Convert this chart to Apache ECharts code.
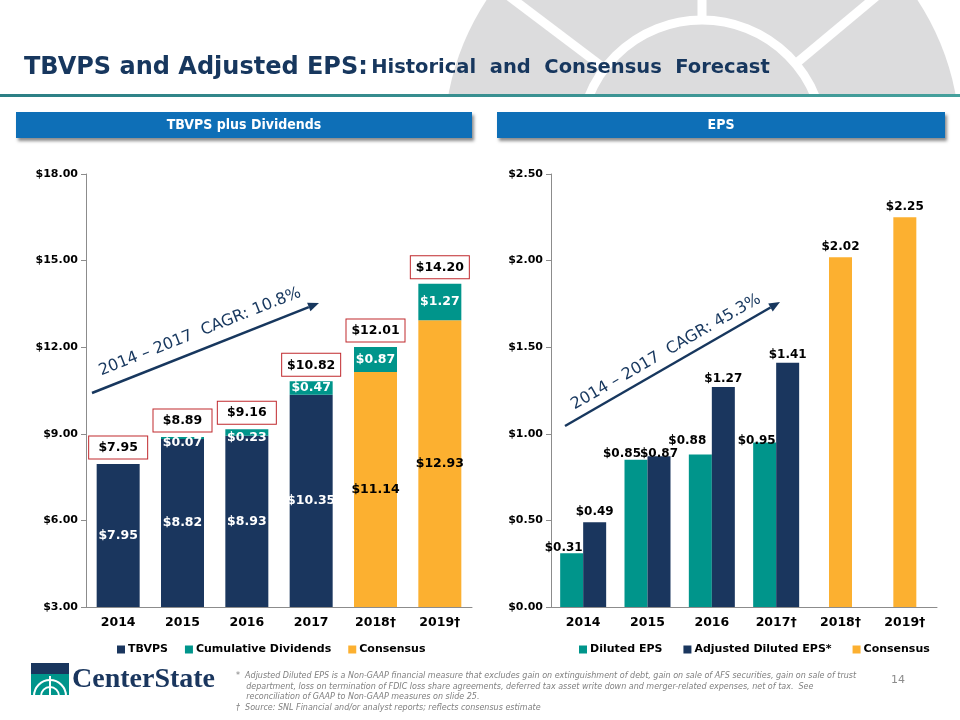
<!DOCTYPE html>
<html><head><meta charset="utf-8">
<script src="https://cdn.jsdelivr.net/npm/echarts@6/dist/echarts.min.js"></script>
<style>html,body{margin:0;padding:0;background:#fff}#c{width:960px;height:720px}</style>
</head><body><div id="c"></div>
<script>
// ---------- DATA ----------
const leftCategories = ['2014', '2015', '2016', '2017', '2018†', '2019†'];
const tbvps = [7.95, 8.82, 8.93, 10.35, 0, 0];
const tbvpsConsensus = [0, 0, 0, 0, 11.14, 12.93];
const cumulativeDividends = [0, 0.07, 0.23, 0.47, 0.87, 1.27];
const tbvpsTotals = [7.95, 8.89, 9.16, 10.82, 12.01, 14.20];
const leftAxis = { min: 3, max: 18, interval: 3 };

const rightCategories = ['2014', '2015', '2016', '2017†', '2018†', '2019†'];
const dilutedEps = [0.31, 0.85, 0.88, 0.95, '-', '-'];
const adjustedDilutedEps = [0.49, 0.87, 1.27, 1.41, '-', '-'];
const epsConsensus = ['-', '-', '-', '-', 2.02, 2.25];
const rightAxis = { min: 0, max: 2.5, interval: 0.5 };

const leftCagrText = '2014 – 2017  CAGR: 10.8%';
const rightCagrText = '2014 – 2017  CAGR: 45.3%';

// ---------- STYLE ----------
const NAVY = '#1a365e';
const TEAL = '#00958b';
const ORANGE = '#fcb030';
const BOXRED = '#c0282d';
const FONT = '"DejaVu Sans", Verdana, sans-serif';
const COND = '"DejaVu Sans Condensed", "DejaVu Sans", sans-serif';
// label nudges (pixels) to mimic the original's de-overlapped label placement
const dilutedLabelNudge = [[-8, 4.5], [-14, 4.5], [-13, -4], [-8, 8], [0, 0], [0, 0]];
const adjustedLabelNudge = [[0, 0], [0, 7.5], [0, 2], [0, 2], [0, 0], [0, 0]];

const money = v => '$' + Number(v).toFixed(2);
const hideZero = p => (p.value === 0 || p.value === '-' || p.value == null) ? '' : money(p.value);

function arrow(x1, y1, x2, y2, color) {
  const a = Math.atan2(y2 - y1, x2 - x1);
  const L = 11, W = 4.5;
  const bx = x2 - L * Math.cos(a), by = y2 - L * Math.sin(a);
  const px = -Math.sin(a) * W, py = Math.cos(a) * W;
  return [
    { type: 'line', shape: { x1, y1, x2: bx, y2: by }, style: { stroke: color, lineWidth: 2.5 }, z: 10 },
    { type: 'polygon', shape: { points: [[x2, y2], [bx + px, by + py], [bx - px, by - py]] }, style: { fill: color }, z: 10 }
  ];
}

// watermark geometry
const wm = { cx: 702, cy: 142, r: 258, ring: 122 };
function ray(tx, ty) {
  const dx = tx - wm.cx, dy = ty - wm.cy, l = Math.hypot(dx, dy);
  return { type: 'line', shape: { x1: wm.cx + dx / l * wm.ring, y1: wm.cy + dy / l * wm.ring, x2: wm.cx + dx / l * 320, y2: wm.cy + dy / l * 320 }, style: { stroke: '#fff', lineWidth: 9 }, z: -9 };
}

const footLines = [
  '*  Adjusted Diluted EPS is a Non-GAAP financial measure that excludes gain on extinguishment of debt, gain on sale of AFS securities, gain on sale of trust',
  '    department, loss on termination of FDIC loss share agreements, deferred tax asset write down and merger-related expenses, net of tax.  See',
  '    reconciliation of GAAP to Non-GAAP measures on slide 25.',
  '†  Source: SNL Financial and/or analyst reports; reflects consensus estimate'
];

const graphic = [
  // watermark
  { type: 'circle', shape: { cx: wm.cx, cy: wm.cy, r: wm.r }, style: { fill: '#dcdcdd' }, z: -10 },
  { type: 'circle', shape: { cx: wm.cx, cy: wm.cy, r: wm.ring }, style: { fill: 'none', stroke: '#fff', lineWidth: 9 }, z: -9 },
  ray(wm.cx, 0), ray(514, 0), ray(872, 0),
  { type: 'rect', shape: { x: 0, y: 97, width: 960, height: 623 }, style: { fill: '#fff' }, z: -8 },
  // teal rule
  { type: 'rect', shape: { x: 0, y: 94, width: 960, height: 3 }, style: { fill: new echarts.graphic.LinearGradient(0, 0, 1, 0, [{ offset: 0, color: '#2c7f85' }, { offset: 1, color: '#45a09c' }]) }, z: -7 },
  // title
  { type: 'text', x: 24, y: 68, style: { text: '{a|TBVPS and Adjusted EPS:} {b|Historical  and  Consensus  Forecast}', verticalAlign: 'middle', rich: {
      a: { fontFamily: FONT, fontWeight: 'bold', fontSize: 24, fill: '#17375e' },
      b: { fontFamily: FONT, fontWeight: 'bold', fontSize: 19.5, fill: '#17375e' } } }, z: 5 },
  // section headers
  { type: 'rect', shape: { x: 16, y: 112, width: 456, height: 26 }, style: { fill: '#0e6fb7', shadowBlur: 3, shadowOffsetX: 2, shadowOffsetY: 3, shadowColor: 'rgba(0,0,0,0.45)' }, z: 1 },
  { type: 'text', x: 244, y: 125, style: { text: 'TBVPS plus Dividends', align: 'center', verticalAlign: 'middle', fontFamily: COND, fontWeight: 'bold', fontSize: 14, fill: '#fff' }, z: 2 },
  { type: 'rect', shape: { x: 497, y: 112, width: 448, height: 26 }, style: { fill: '#0e6fb7', shadowBlur: 3, shadowOffsetX: 2, shadowOffsetY: 3, shadowColor: 'rgba(0,0,0,0.45)' }, z: 1 },
  { type: 'text', x: 721, y: 125, style: { text: 'EPS', align: 'center', verticalAlign: 'middle', fontFamily: COND, fontWeight: 'bold', fontSize: 14, fill: '#fff' }, z: 2 },
  // CAGR annotations
  ...arrow(92, 393, 319, 303, '#17375e'),
  { type: 'text', x: 200, y: 332, rotation: 21.6 * Math.PI / 180, style: { text: leftCagrText, align: 'center', verticalAlign: 'middle', fontFamily: FONT, fontSize: 16, fill: '#17375e' }, z: 10 },
  ...arrow(565, 426, 780, 302, '#17375e'),
  { type: 'text', x: 666, y: 352, rotation: 30 * Math.PI / 180, style: { text: rightCagrText, align: 'center', verticalAlign: 'middle', fontFamily: FONT, fontSize: 16, fill: '#17375e' }, z: 10 },
  // logo
  { type: 'rect', shape: { x: 31, y: 663, width: 38, height: 11 }, style: { fill: NAVY } },
  { type: 'rect', shape: { x: 31, y: 674, width: 38, height: 21 }, style: { fill: TEAL } },
  { type: 'arc', shape: { cx: 50, cy: 696, r: 16, startAngle: Math.PI, endAngle: 2 * Math.PI }, style: { stroke: '#fff', lineWidth: 2, fill: 'none' } },
  { type: 'arc', shape: { cx: 50, cy: 696, r: 9, startAngle: Math.PI, endAngle: 2 * Math.PI }, style: { stroke: '#fff', lineWidth: 2, fill: 'none' } },
  { type: 'line', shape: { x1: 50, y1: 676, x2: 50, y2: 695 }, style: { stroke: '#fff', lineWidth: 2 } },
  { type: 'text', x: 72, y: 680, style: { text: 'CenterState', verticalAlign: 'middle', fontFamily: '"Liberation Serif", serif', fontWeight: 'bold', fontSize: 28, fill: NAVY } },
  // footnotes
  ...footLines.map((t, i) => ({ type: 'text', x: 236, y: 676 + i * 10.5, style: { text: t, verticalAlign: 'middle', fontFamily: FONT, fontStyle: 'italic', fontSize: 8, fill: '#7f7f7f' } })),
  { type: 'text', x: 898, y: 680, style: { text: '14', align: 'center', verticalAlign: 'middle', fontFamily: FONT, fontSize: 11, fill: '#8c8c8c' } }
];

const axisCommon = {
  axisLine: { lineStyle: { color: '#8c8c8c', width: 1 } },
  axisTick: { lineStyle: { color: '#8c8c8c' }, length: 5 },
  splitLine: { show: false }
};
const catAxisLabel = { color: '#000', fontFamily: FONT, fontWeight: 'bold', fontSize: 12.5, margin: 9 };
const valAxisLabel = { color: '#000', fontFamily: FONT, fontWeight: 'bold', fontSize: 11, margin: 8, formatter: v => money(v) };
const barLabelWhite = { show: true, position: 'inside', color: '#fff', fontFamily: FONT, fontWeight: 'bold', fontSize: 12.5, formatter: hideZero };
const topLabel = { show: true, position: 'top', distance: 4, color: '#000', fontFamily: FONT, fontWeight: 'bold', fontSize: 12, formatter: hideZero };
const legendText = { color: '#000', fontFamily: FONT, fontWeight: 'bold', fontSize: 11, padding: [0, 0, 0, -2] };
const nudged = (arr, nudges) => arr.map((v, i) => ({ value: v, label: { offset: nudges[i] } }));

const option = {
  animation: false,
  backgroundColor: '#fff',
  graphic,
  grid: [
    { left: 86, top: 174, width: 386, height: 433 },
    { left: 551, top: 174, width: 386, height: 433 }
  ],
  xAxis: [
    { type: 'category', gridIndex: 0, data: leftCategories, ...axisCommon, axisLabel: catAxisLabel },
    { type: 'category', gridIndex: 1, data: rightCategories, ...axisCommon, axisLabel: catAxisLabel },
    { type: 'category', gridIndex: 1, data: rightCategories, show: false }
  ],
  yAxis: [
    { type: 'value', gridIndex: 0, min: leftAxis.min, max: leftAxis.max, interval: leftAxis.interval, ...axisCommon, axisLine: { show: true, lineStyle: { color: '#8c8c8c' } }, axisTick: { show: true, length: 5, lineStyle: { color: '#8c8c8c' } }, axisLabel: valAxisLabel },
    { type: 'value', gridIndex: 1, min: rightAxis.min, max: rightAxis.max, interval: rightAxis.interval, ...axisCommon, axisLine: { show: true, lineStyle: { color: '#8c8c8c' } }, axisTick: { show: true, length: 5, lineStyle: { color: '#8c8c8c' } }, axisLabel: valAxisLabel }
  ],
  legend: [
    { left: 112, top: 639, itemWidth: 8, itemHeight: 8, itemGap: 17, icon: 'rect', data: ['TBVPS', 'Cumulative Dividends', 'Consensus'], textStyle: legendText },
    { left: 574, top: 639, itemWidth: 8, itemHeight: 8, itemGap: 21, icon: 'rect', data: ['Diluted EPS', 'Adjusted Diluted EPS*', 'Consensus'], textStyle: legendText }
  ],
  series: [
    { name: 'TBVPS', type: 'bar', xAxisIndex: 0, yAxisIndex: 0, stack: 'L', barWidth: 43, data: tbvps, itemStyle: { color: NAVY }, label: barLabelWhite },
    { name: 'Consensus', type: 'bar', xAxisIndex: 0, yAxisIndex: 0, stack: 'L', barWidth: 43, data: tbvpsConsensus, itemStyle: { color: ORANGE }, label: { ...barLabelWhite, color: '#000' } },
    { name: 'Cumulative Dividends', type: 'bar', xAxisIndex: 0, yAxisIndex: 0, stack: 'L', barWidth: 43,
      data: cumulativeDividends.map(v => ({ value: v, label: v < 0.3 ? { offset: [0, 5] } : {} })), itemStyle: { color: TEAL }, label: barLabelWhite },
    { name: 'Total', type: 'scatter', xAxisIndex: 0, yAxisIndex: 0, data: tbvpsTotals, symbolSize: 1, itemStyle: { color: 'rgba(0,0,0,0)', opacity: 1 }, z: 5,
      label: { show: true, position: 'top', distance: 5, formatter: p => money(p.value), color: '#000', fontFamily: FONT, fontWeight: 'bold', fontSize: 12.5,
        backgroundColor: '#fff', borderColor: BOXRED, borderWidth: 1, width: 44, align: 'center', padding: [5, 7, 4, 7] } },
    { name: 'Diluted EPS', type: 'bar', xAxisIndex: 1, yAxisIndex: 1, barWidth: 23, barGap: '0%', data: nudged(dilutedEps, dilutedLabelNudge), itemStyle: { color: TEAL }, label: topLabel },
    { name: 'Adjusted Diluted EPS*', type: 'bar', xAxisIndex: 1, yAxisIndex: 1, barWidth: 23, barGap: '0%', data: nudged(adjustedDilutedEps, adjustedLabelNudge), itemStyle: { color: NAVY }, label: topLabel },
    { name: 'Consensus', type: 'bar', xAxisIndex: 2, yAxisIndex: 1, barWidth: 23, data: epsConsensus, itemStyle: { color: ORANGE }, label: topLabel }
  ]
};

const chart = echarts.init(document.getElementById('c'), null, { renderer: 'canvas' });
chart.setOption(option);
</script>
</body></html>
